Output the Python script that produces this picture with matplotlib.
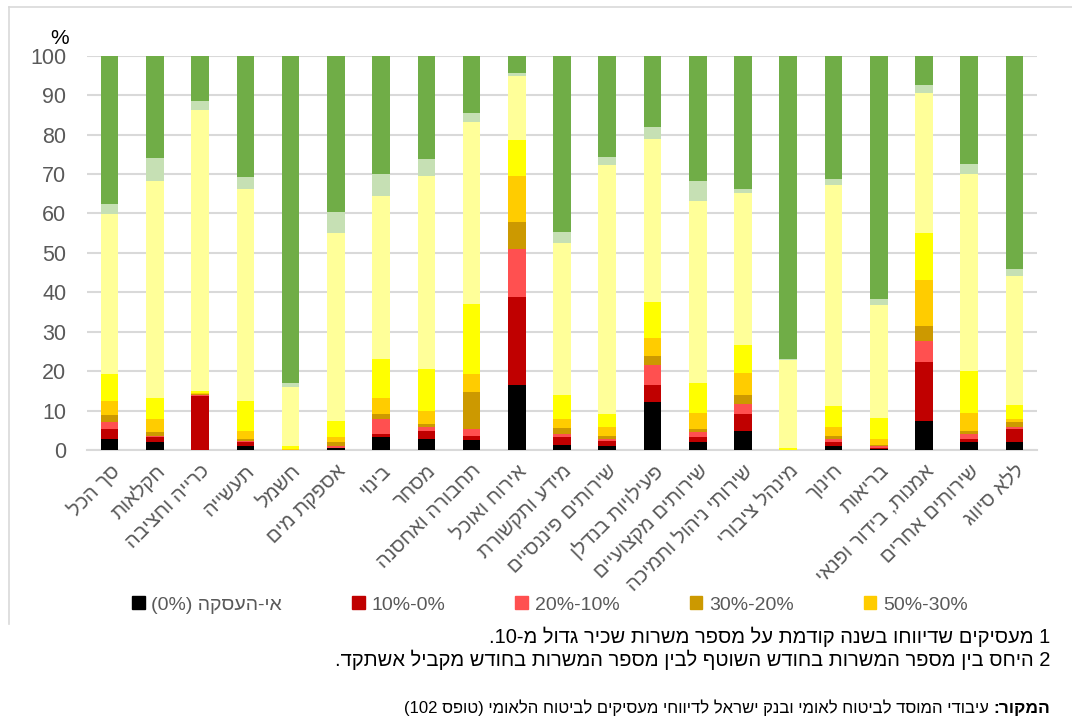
import re
import matplotlib
matplotlib.use('Agg')
from matplotlib import pyplot as plt
from matplotlib.patches import Patch
from matplotlib.lines import Line2D
import numpy as np

plt.rcParams['font.family'] = ['Liberation Sans', 'DejaVu Sans']

# categories (logical Hebrew order)
categories = ['סך הכל', 'חקלאות', 'כרייה וחציבה', 'תעשייה', 'חשמל', 'אספקת מים',
              'בינוי', 'מסחר', 'תחבורה ואחסנה', 'אירוח ואוכל', 'מידע ותקשורת',
              'שירותים פיננסיים', 'פעילויות בנדלן', 'שירותים מקצועיים',
              'שירותי ניהול ותמיכה', 'מינהל ציבורי', 'חינוך', 'בריאות',
              'אמנות, בידור ופנאי', 'שירותים אחרים', 'ללא סיווג']

# segment sizes (%), bottom to top
s_none   = [2.7, 2.0, 0.1, 1.1, 0.0, 0.5, 3.4, 2.9, 2.6, 16.6, 1.3, 1.1, 12.1, 2.0, 4.9, 0.0, 1.1, 0.3, 7.4, 1.9, 2.0]
s_0_10   = [2.6, 1.2, 13.7, 0.9, 0.0, 0.1, 0.7, 2.0, 1.0, 22.3, 2.1, 1.3, 4.5, 1.4, 4.2, 0.0, 0.8, 0.3, 14.8, 0.9, 3.4]
s_10_20  = [1.9, 0.4, 0.1, 0.3, 0.0, 0.4, 3.7, 0.8, 1.6, 12.2, 0.7, 0.5, 4.9, 1.1, 2.5, 0.0, 0.9, 0.5, 5.4, 1.2, 0.5]
s_20_30  = [1.7, 1.0, 0.3, 0.4, 0.1, 1.0, 1.4, 1.0, 9.6, 6.8, 1.5, 0.7, 2.4, 0.8, 2.3, 0.0, 0.8, 0.1, 3.8, 0.9, 1.2]
s_30_50  = [3.4, 3.3, 0.3, 2.1, 0.2, 1.4, 4.1, 3.2, 4.5, 11.7, 2.3, 2.3, 4.6, 4.2, 5.5, 0.1, 2.3, 1.7, 11.7, 4.6, 0.8]
s_50_70  = [7.0, 5.2, 0.4, 7.5, 0.7, 4.0, 9.8, 10.6, 17.8, 9.0, 6.0, 3.3, 9.1, 7.5, 7.3, 0.4, 5.3, 5.2, 11.9, 10.5, 3.6]
s_70_100 = [40.6, 55.1, 71.3, 53.9, 15.0, 47.6, 41.3, 49.1, 46.2, 16.3, 38.6, 63.1, 41.4, 46.2, 38.5, 22.3, 55.9, 28.6, 35.5, 50.1, 32.7]
s_100    = [2.5, 5.8, 2.3, 3.0, 1.0, 5.4, 5.6, 4.3, 2.2, 0.8, 2.9, 1.9, 3.0, 5.1, 1.0, 0.3, 1.6, 1.6, 2.1, 2.4, 1.8]
s_up     = [37.6, 26.0, 11.5, 30.8, 83.0, 39.6, 30.0, 26.1, 14.5, 4.3, 44.6, 25.8, 18.0, 31.7, 33.8, 76.9, 31.3, 61.7, 7.4, 27.5, 54.0]

series = [s_none, s_0_10, s_10_20, s_20_30, s_30_50, s_50_70, s_70_100, s_100, s_up]
colors = ['#000000', '#C00000', '#FF5050', '#CC9900', '#FFCC00', '#FFFF00',
          '#FFFF99', '#C6E0B4', '#70AD47']
# legend labels as they appear on the page
legend_labels = ['(0%) ' + 'אי-העסקה'[::-1], '10%-0%', '20%-10%', '30%-20%', '50%-30%']


def rtl(s):
    """ crude visual reordering for right-to-left text """
    r = s[::-1]
    r = re.sub(r'[0-9%]+', lambda m: m.group(0)[::-1], r)
    return r.translate(str.maketrans('()', ')('))


fig = plt.figure(figsize=(10.72, 7.18), dpi=100)
ax = fig.add_axes([0.0812, 0.3733, 0.8862, 0.5491])

x = np.arange(len(categories))
bottom = np.zeros(len(categories))
for vals, c in zip(series, colors):
    ax.bar(x, vals, bottom=bottom, width=0.39, color=c, edgecolor='none', zorder=3)
    bottom += np.array(vals)

ax.set_xlim(-0.5, len(categories) - 0.5)
ax.set_ylim(0, 100)
ax.set_yticks(range(0, 101, 10))
ax.grid(axis='y', color='#D9D9D9', linewidth=1.5, zorder=0)
for sp in ['top', 'right', 'left']:
    ax.spines[sp].set_visible(False)
ax.spines['bottom'].set_color('#D9D9D9')
ax.spines['bottom'].set_linewidth(1.5)
ax.tick_params(axis='both', length=0)
ax.tick_params(axis='y', labelsize=15.5, labelcolor='#595959', pad=15)
ax.set_xticks(x)
ax.set_xticklabels([rtl(c) for c in categories], rotation=45, ha='right',
                   rotation_mode='anchor', fontsize=14.5, color='#595959')
ax.tick_params(axis='x', pad=8)

fig.text(60 / 1072, 1 - 38 / 718, '%', fontsize=15, ha='center', va='center')

handles = [Patch(color=c) for c in colors[:5]]
fig.legend(handles, legend_labels, loc='center',
           bbox_to_anchor=(0.513, 1 - 605 / 718), ncol=5, frameon=False,
           fontsize=14, labelcolor='#595959', handlelength=0.65, handleheight=0.65,
           handletextpad=0.35, columnspacing=3.6)

# chart frame (top and left edges visible)
fig.add_artist(Line2D([9 / 1072, 1.0], [1 - 7 / 718] * 2, transform=fig.transFigure,
                      color='#D9D9D9', linewidth=1.2))
fig.add_artist(Line2D([9 / 1072] * 2, [1 - 7 / 718, 1 - 624 / 718], transform=fig.transFigure,
                      color='#D9D9D9', linewidth=1.2))

note1 = '1 מעסיקים שדיווחו בשנה קודמת על מספר משרות שכיר גדול מ-10.'
note2 = '2 היחס בין מספר המשרות בחודש השוטף לבין מספר המשרות בחודש מקביל אשתקד.'
fig.text(1050 / 1072, 1 - 637 / 718, rtl(note1), ha='right', va='center', fontsize=14.5)
fig.text(1050 / 1072, 1 - 660 / 718, rtl(note2), ha='right', va='center', fontsize=14.5)

src_head = 'המקור:'
src_body = ' עיבודי המוסד לביטוח לאומי ובנק ישראל לדיווחי מעסיקים לביטוח הלאומי (טופס 102)'
t1 = fig.text(1050 / 1072, 1 - 708 / 718, rtl(src_head), ha='right', va='center',
              fontsize=12.5, fontweight='bold')
plt.annotate(rtl(src_body), xy=(0, 0.5), xycoords=t1, ha='right', va='center',
             fontsize=12)

fig.savefig('out.png', dpi=100)
